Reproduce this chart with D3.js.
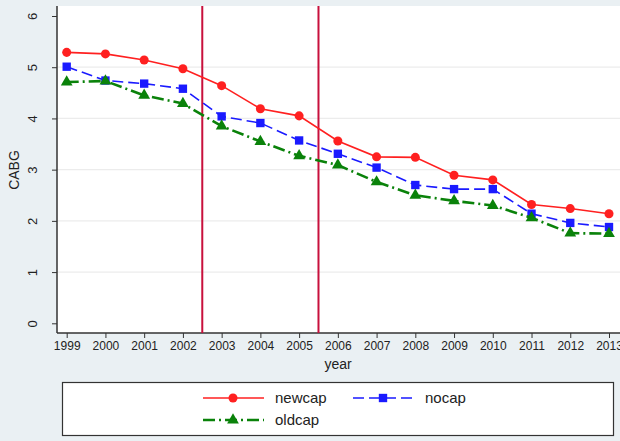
<!DOCTYPE html>
<html>
<head>
<meta charset="utf-8">
<script src="https://cdn.jsdelivr.net/npm/d3@7/dist/d3.min.js"></script>
<style>
  body { margin: 0; background: #eaf0f3; }
  svg { display: block; font-family: "Liberation Sans", Arial, sans-serif; }
</style>
</head>
<body>
<div class="chart"></div>
<script>
// data
const years = d3.range(1999, 2014);
const newcap = [5.29, 5.26, 5.14, 4.97, 4.64, 4.19, 4.05, 3.56, 3.25, 3.24, 2.89, 2.80, 2.32, 2.24, 2.14];
const nocap  = [5.01, 4.74, 4.68, 4.58, 4.04, 3.91, 3.57, 3.31, 3.04, 2.70, 2.62, 2.62, 2.14, 1.96, 1.88];
const oldcap = [4.71, 4.73, 4.45, 4.29, 3.85, 3.55, 3.27, 3.09, 2.76, 2.50, 2.39, 2.30, 2.06, 1.76, 1.75];
const yTicks = [0, 1, 2, 3, 4, 5, 6];
const breaks = [2002.5, 2005.5];

const width = 620, height = 441;
const plotLeft = 57, plotTop = 6, plotBottom = 333;

const svg = d3.select('.chart')
  .append('svg')
  .attr('width', width)
  .attr('height', height);

svg.append('rect')
  .attr('width', width).attr('height', height)
  .attr('fill', '#eaf0f3');

svg.append('rect')
  .attr('x', plotLeft).attr('y', plotTop)
  .attr('width', width - plotLeft).attr('height', plotBottom - plotTop)
  .attr('fill', '#fff');

const x = d3.scaleLinear().domain([1999, 2013]).range([66.7, 609]);
const y = d3.scaleLinear().domain([0, 6]).range([323.3, 16]);

// grid
svg.selectAll('.grid')
  .data(yTicks.filter(d => d > 0 && d < 6))
  .enter().append('line')
  .attr('x1', plotLeft).attr('x2', width)
  .attr('y1', d => y(d)).attr('y2', d => y(d))
  .attr('stroke', '#ececec').attr('stroke-width', 1.2);

// axes
const yAxis = svg.append('g')
  .attr('transform', `translate(${plotLeft},0)`)
  .call(d3.axisLeft(y).tickValues(yTicks).tickFormat(d3.format('d')).tickSize(5).tickPadding(4).tickSizeOuter(0));
yAxis.select('.domain').attr('d', `M0,${plotTop}V${plotBottom}`).attr('stroke', '#333').attr('stroke-width', 1.5);
yAxis.selectAll('.tick line').attr('stroke', '#333');
yAxis.selectAll('.tick text')
  .attr('font-size', 13).attr('fill', '#222')
  .attr('text-anchor', 'middle')
  .attr('transform', d => `translate(-25,0) rotate(-90)`)
  .attr('x', 0).attr('dy', '0.35em');

const xAxis = svg.append('g')
  .attr('transform', `translate(0,${plotBottom})`)
  .call(d3.axisBottom(x).tickValues(years).tickFormat(d3.format('d')).tickSize(5).tickPadding(3).tickSizeOuter(0));
xAxis.select('.domain').attr('d', `M${plotLeft},0H${width}`).attr('stroke', '#333').attr('stroke-width', 1.5);
xAxis.selectAll('.tick line').attr('stroke', '#333');
xAxis.selectAll('.tick text').attr('font-size', 12).attr('fill', '#222');

svg.append('text')
  .attr('transform', 'translate(19,170) rotate(-90)')
  .attr('text-anchor', 'middle')
  .attr('font-size', 14).attr('fill', '#222')
  .text('CABG');

svg.append('text')
  .attr('x', 338).attr('y', 369)
  .attr('text-anchor', 'middle')
  .attr('font-size', 14).attr('fill', '#222')
  .text('year');

// reference lines
svg.selectAll('.break')
  .data(breaks)
  .enter().append('line')
  .attr('x1', d => x(d)).attr('x2', d => x(d))
  .attr('y1', plotTop).attr('y2', plotBottom)
  .attr('stroke', '#c8103c').attr('stroke-width', 2);

const series = [
  { name: 'newcap', values: newcap, color: '#ff2020', dash: null, width: 1.6, marker: d3.symbolCircle, size: 64 },
  { name: 'nocap', values: nocap, color: '#1a1aff', dash: '11,5', width: 1.6, marker: d3.symbolSquare, size: 70 },
  { name: 'oldcap', values: oldcap, color: '#0a820a', dash: '12,4,2,4', width: 2.6, marker: d3.symbolTriangle, size: 60 }
];

const line = d3.line().x((d, i) => x(years[i])).y(d => y(d));

series.forEach(s => {
  svg.append('path')
    .attr('d', line(s.values))
    .attr('fill', 'none')
    .attr('stroke', s.color)
    .attr('stroke-width', s.width)
    .attr('stroke-dasharray', s.dash);
  svg.selectAll('.m-' + s.name)
    .data(s.values)
    .enter().append('path')
    .attr('d', d3.symbol().type(s.marker).size(s.size))
    .attr('transform', (d, i) => `translate(${x(years[i])},${y(d)})`)
    .attr('fill', s.color);
});

// legend
const legend = svg.append('g');
legend.append('rect')
  .attr('x', 62.5).attr('y', 382.5)
  .attr('width', 551).attr('height', 53)
  .attr('fill', '#fff').attr('stroke', '#333').attr('stroke-width', 1.2);

const legendPos = [
  { x: 203, y: 398 },
  { x: 353, y: 398 },
  { x: 203, y: 420 }
];

series.forEach((s, i) => {
  const p = legendPos[i];
  legend.append('line')
    .attr('x1', p.x).attr('x2', p.x + 61)
    .attr('y1', p.y).attr('y2', p.y)
    .attr('stroke', s.color).attr('stroke-width', s.width)
    .attr('stroke-dasharray', s.dash);
  legend.append('path')
    .attr('d', d3.symbol().type(s.marker).size(s.size))
    .attr('transform', `translate(${p.x + 30},${p.y})`)
    .attr('fill', s.color);
  legend.append('text')
    .attr('x', p.x + 72).attr('y', p.y)
    .attr('dy', '0.35em')
    .attr('font-size', 15).attr('fill', '#222')
    .text(s.name);
});
</script>
</body>
</html>
